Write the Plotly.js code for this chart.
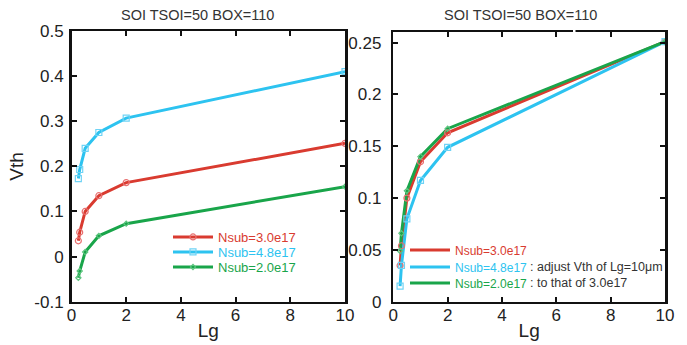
<!DOCTYPE html>
<html>
<head>
<meta charset="utf-8">
<script src="https://cdn.plot.ly/plotly-3.0.1.min.js"></script>
<style>html,body{margin:0;padding:0;background:#fff;}#chart{width:687px;height:345px;}</style>
</head>
<body>
<div id="chart"></div>
<script>
// Data
const lg = [0.25, 0.3, 0.5, 1, 2, 10];
// Left panel: raw Vth
const vthN30 = [0.035, 0.054, 0.100, 0.135, 0.164, 0.251];
const vthN48 = [0.173, 0.193, 0.240, 0.275, 0.307, 0.410];
const vthN20 = [-0.047, -0.032, 0.010, 0.046, 0.073, 0.155];
// Right panel: Vth adjusted to that of 3.0e17 at Lg=10um
const adjN30 = [0.035, 0.054, 0.100, 0.135, 0.163, 0.251];
const adjN48 = [0.015, 0.035, 0.080, 0.117, 0.149, 0.251];
const adjN20 = [0.049, 0.066, 0.107, 0.140, 0.167, 0.251];

const seriesNames = ["Nsub=3.0e17", "Nsub=4.8e17", "Nsub=2.0e17"];
const titleText = "SOI TSOI=50 BOX=110";
const noteLines = [": adjust Vth of Lg=10\u03bcm", ": to that of 3.0e17"];
const leftYTicks = [-0.1, 0, 0.1, 0.2, 0.3, 0.4, 0.5];
const leftYTickText = ["-0.1", "0", "0.1", "0.2", "0.3", "0.4", "0.5"];
const rightYTicks = [0, 0.05, 0.1, 0.15, 0.2, 0.25];
const rightYTickText = ["0", "0.05", "0.1", "0.15", "0.2", "0.25"];
const xTicks = [0, 2, 4, 6, 8, 10];

const RED = "#d93b30", BLUE = "#2dc3f0", GREEN = "#19a54a";
const RED_M = "#e87070", BLUE_M = "#6fd3f5", GREEN_M = "#5cc47e";
const FONT = "Liberation Sans, Arial, Helvetica, sans-serif";

function lbl(text, color) { return '<span style="color:' + color + '">' + text + '</span>'; }

const traces = [
  {x: lg, y: vthN30, mode: "lines+markers", name: lbl(seriesNames[0], RED), xaxis: "x", yaxis: "y", legend: "legend",
   line: {color: RED, width: 3}, marker: {symbol: "circle-open", size: 6, color: RED_M, line: {width: 1.2}}},
  {x: lg, y: vthN48, mode: "lines+markers", name: lbl(seriesNames[1], BLUE), xaxis: "x", yaxis: "y", legend: "legend2",
   line: {color: BLUE, width: 3}, marker: {symbol: "square-open", size: 6, color: BLUE_M, line: {width: 1.2}}},
  {x: lg, y: vthN20, mode: "lines+markers", name: lbl(seriesNames[2], GREEN), xaxis: "x", yaxis: "y", legend: "legend3",
   line: {color: GREEN, width: 3}, marker: {symbol: "diamond-open", size: 4, color: GREEN_M, line: {width: 1.2}}},

  {x: lg, y: adjN30, mode: "lines", name: lbl(seriesNames[0], RED), xaxis: "x2", yaxis: "y2", legend: "legend4",
   line: {color: RED, width: 3}},
  {x: lg, y: adjN48, mode: "lines", name: lbl(seriesNames[1], BLUE), xaxis: "x2", yaxis: "y2", legend: "legend5",
   line: {color: BLUE, width: 3}},
  {x: lg, y: adjN20, mode: "lines", name: lbl(seriesNames[2], GREEN), xaxis: "x2", yaxis: "y2", legend: "legend6",
   line: {color: GREEN, width: 3}},
  {x: lg, y: adjN30, mode: "markers", showlegend: false, xaxis: "x2", yaxis: "y2",
   marker: {symbol: "circle-open", size: 6, color: RED_M, line: {width: 1.2}}},
  {x: lg, y: adjN48, mode: "markers", showlegend: false, xaxis: "x2", yaxis: "y2",
   marker: {symbol: "square-open", size: 6, color: BLUE_M, line: {width: 1.2}}},
  {x: lg, y: adjN20, mode: "markers", showlegend: false, xaxis: "x2", yaxis: "y2",
   marker: {symbol: "diamond-open", size: 4, color: GREEN_M, line: {width: 1.2}}}
];

const W = 687, H = 345;
function px(x) { return x / W; }
function py(y) { return (H - y) / H; }

const axisCommon = {
  showline: true, linecolor: "#111", linewidth: 2.5, mirror: "ticks",
  ticks: "inside", ticklen: 5, tickwidth: 2, tickcolor: "#111",
  showgrid: false, zeroline: false, fixedrange: true,
  tickfont: {family: FONT, size: 17, color: "#222"}
};

function legendAt(x, y, size) {
  return {x: px(x), xanchor: "left", y: py(y), yanchor: "middle", bgcolor: "rgba(0,0,0,0)", borderwidth: 0,
    font: {family: FONT, size: size}, itemwidth: 40};
}

const layout = {
  width: W, height: H,
  margin: {l: 0, r: 0, t: 0, b: 0},
  paper_bgcolor: "#fff", plot_bgcolor: "#fff",
  font: {family: FONT, color: "#222"},
  xaxis: Object.assign({}, axisCommon, {domain: [px(71.5), px(345)], range: [0, 10], tickvals: xTicks, anchor: "y",
    ticklabelstandoff: -4,
    title: {text: "Lg", font: {family: FONT, size: 19, color: "#222"}, standoff: 0}}),
  yaxis: Object.assign({}, axisCommon, {domain: [py(301.7), py(31)], range: [-0.1, 0.5], tickvals: leftYTicks, ticktext: leftYTickText, anchor: "x",
    ticklabelstandoff: 2,
    title: {text: "Vth", font: {family: FONT, size: 19, color: "#222"}, standoff: 6}}),
  xaxis2: Object.assign({}, axisCommon, {domain: [px(393.3), px(665)], range: [0, 10], tickvals: xTicks, anchor: "y2",
    ticklabelstandoff: -4,
    title: {text: "Lg", font: {family: FONT, size: 19, color: "#222"}, standoff: 0}}),
  yaxis2: Object.assign({}, axisCommon, {domain: [py(301.7), py(32.3)], range: [0, 0.26], tickvals: rightYTicks, ticktext: rightYTickText, anchor: "x2",
    ticklabelstandoff: 6}),
  legend: legendAt(168, 237, 13),
  legend2: legendAt(168, 252, 13),
  legend3: legendAt(168, 267, 13),
  legend4: legendAt(405, 250, 12),
  legend5: legendAt(405, 267, 12),
  legend6: legendAt(405, 283, 12),
  annotations: [
    {xref: "paper", yref: "paper", x: px(197), y: py(15), text: titleText, showarrow: false, xanchor: "center", yanchor: "middle",
     font: {family: FONT, size: 14.5, color: "#333"}},
    {xref: "paper", yref: "paper", x: px(520), y: py(15), text: titleText, showarrow: false, xanchor: "center", yanchor: "middle",
     font: {family: FONT, size: 14.5, color: "#333"}},
    {xref: "paper", yref: "paper", x: px(528), y: py(267), text: noteLines[0], showarrow: false, xanchor: "left", yanchor: "middle",
     font: {family: FONT, size: 12.5, color: "#333"}},
    {xref: "paper", yref: "paper", x: px(528), y: py(283), text: noteLines[1], showarrow: false, xanchor: "left", yanchor: "middle",
     font: {family: FONT, size: 12.5, color: "#333"}}
  ],
  shapes: [
    {type: "rect", xref: "paper", yref: "paper", x0: px(573), x1: px(575.5), y0: py(35), y1: py(29),
     fillcolor: "#fff", line: {width: 0}, layer: "above"}
  ]
};

Plotly.newPlot("chart", traces, layout, {displayModeBar: false, staticPlot: true});
</script>
</body>
</html>
